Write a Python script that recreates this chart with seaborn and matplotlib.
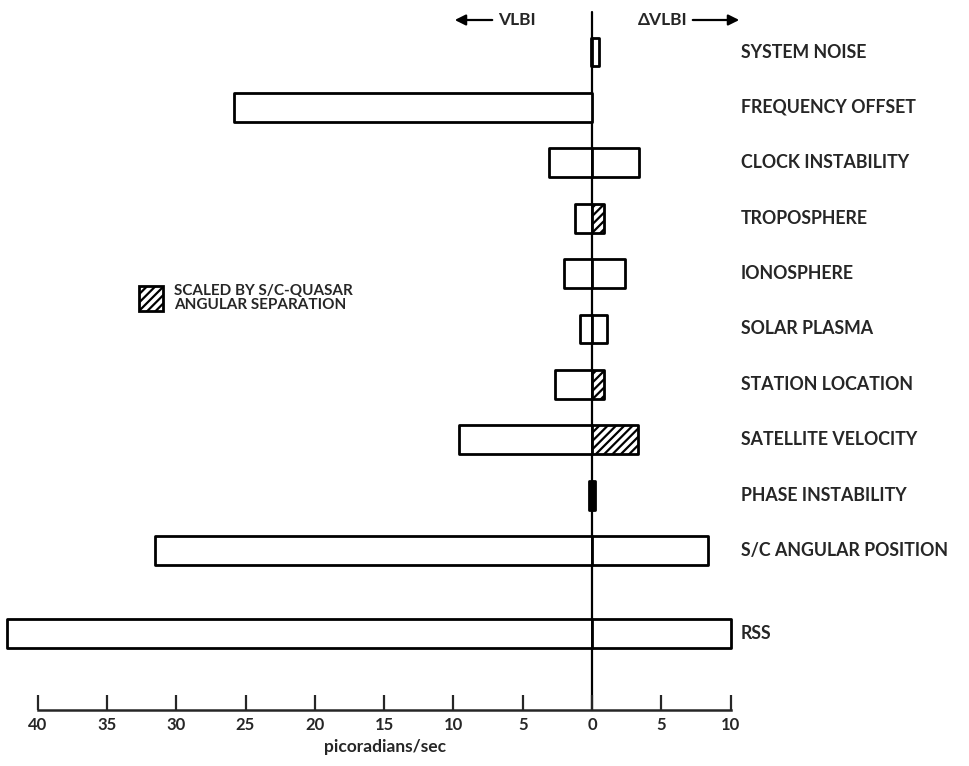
#!/usr/bin/env python3
import numpy as np
import pandas as pd
import matplotlib
matplotlib.use("Agg")
import matplotlib.pyplot as plt
from matplotlib.patches import Patch
import seaborn as sns

# error sources, top to bottom
sources = [
    "SYSTEM NOISE",
    "FREQUENCY OFFSET",
    "CLOCK INSTABILITY",
    "TROPOSPHERE",
    "IONOSPHERE",
    "SOLAR PLASMA",
    "STATION LOCATION",
    "SATELLITE VELOCITY",
    "PHASE INSTABILITY",
    "S/C ANGULAR POSITION",
    "RSS",
]
# row position of each source (RSS set apart)
rows = [0, 1, 2, 3, 4, 5, 6, 7, 8, 9, 10.5]
# error magnitudes, picoradians/sec
vlbi = [0.1, 25.8, 3.1, 1.2, 2.0, 0.9, 2.7, 9.6, 0.2, 31.5, 42.2]
delta_vlbi = [0.5, 0.0, 3.4, 0.9, 2.4, 1.1, 0.9, 3.3, 0.2, 8.4, 10.0]
# delta-VLBI part scaled by S/C-quasar angular separation
scaled = [False, False, False, True, False, False, True, True, False, False, False]
# sources drawn as a solid bar
solid = [False, False, False, False, False, False, False, False, True, False, False]

xticks = [-40, -35, -30, -25, -20, -15, -10, -5, 0, 5, 10]

sns.set_style("white")
plt.rcParams["font.family"] = ["Lato", "DejaVu Sans"]
plt.rcParams["font.weight"] = "bold"
plt.rcParams["hatch.linewidth"] = 1.6

df = pd.DataFrame({
    "source": sources, "row": rows, "left": [-v for v in vlbi],
    "right": delta_vlbi, "scaled": scaled, "solid": solid,
})

fig = plt.figure(figsize=(9.69, 7.66), dpi=100)
ax = fig.add_axes([0, 0, 1, 1])

px = 13.86  # pixels per unit
x0 = 592    # pixel of zero
ax.set_xlim(-x0 / px, (969 - x0) / px)
row_px = 55.4
r0 = 52
ylim = (r0 / row_px * -1, (766 - r0) / row_px)

lw = 2.0
sns.barplot(data=df, x="left", y="row", orient="h", native_scale=True,
            width=0.52, color="white", edgecolor="black", linewidth=lw,
            errorbar=None, ax=ax)
n_left = len(ax.patches)
right_df = df[df["right"] > 0]
sns.barplot(data=right_df, x="right", y="row", orient="h", native_scale=True,
            width=0.52, color="white", edgecolor="black", linewidth=lw,
            errorbar=None, ax=ax)

for p, s in zip(ax.patches[:n_left], df["solid"]):
    p.set_joinstyle("round")
    if s:
        p.set_facecolor("black")
for p, (_, r) in zip(ax.patches[n_left:], right_df.iterrows()):
    p.set_joinstyle("round")
    if r["scaled"]:
        p.set_hatch("////")
    if r["solid"]:
        p.set_facecolor("black")

ax.set_ylim(ylim[1], ylim[0])
axis_y = (710 - r0) / row_px
top_y = (12 - r0) / row_px
ax.plot([0, 0], [top_y, axis_y], color="black", lw=1.6, zorder=0)

# category labels
for name, r in zip(sources, rows):
    ax.text(10.75, r, name, va="center", ha="left", fontsize=12.8, fontweight="bold")

# bottom scale
for side in ["top", "left", "right"]:
    ax.spines[side].set_visible(False)
ax.spines["bottom"].set_position(("data", axis_y))
ax.spines["bottom"].set_bounds(-40, 10)
ax.spines["bottom"].set_linewidth(1.8)
ax.set_xticks(xticks)
ax.set_xticklabels([str(abs(t)) for t in xticks], fontsize=12, fontweight="bold")
ax.tick_params(axis="x", direction="in", length=11, width=1.6, pad=5, bottom=True)
ax.set_yticks([])
ax.set_xlabel("")
ax.set_ylabel("")
ax.text((385 - x0) / px, (747 - r0) / row_px, "picoradians/sec", ha="center", va="center",
        fontsize=12.5, fontweight="bold")

# direction arrows
arr_y = (20 - r0) / row_px
ax.annotate("", xy=((452 - x0) / px, arr_y), xytext=((495 - x0) / px, arr_y),
            arrowprops=dict(arrowstyle="-|>", lw=1.6, color="black", mutation_scale=16))
ax.text((498 - x0) / px, arr_y, "VLBI", ha="left", va="center", fontsize=12.5, fontweight="bold")
ax.text((688 - x0) / px, arr_y, "ΔVLBI", ha="right", va="center", fontsize=12.5, fontweight="bold")
ax.annotate("", xy=((742 - x0) / px, arr_y), xytext=((690 - x0) / px, arr_y),
            arrowprops=dict(arrowstyle="-|>", lw=1.6, color="black", mutation_scale=16))

# legend for scaled bars
handle = Patch(facecolor="white", edgecolor="black", hatch="////", linewidth=2)
leg = ax.legend([handle], ["SCALED BY S/C-QUASAR\nANGULAR SEPARATION"], frameon=False,
                loc="center left", bbox_to_anchor=(139 / 969, 1 - 298 / 766),
                fontsize=11, handlelength=1.6, handleheight=2.1, handletextpad=0.7,
                borderaxespad=0, borderpad=0)
for t in leg.get_texts():
    t.set_linespacing(0.95)

fig.savefig("out.png", dpi=100)
